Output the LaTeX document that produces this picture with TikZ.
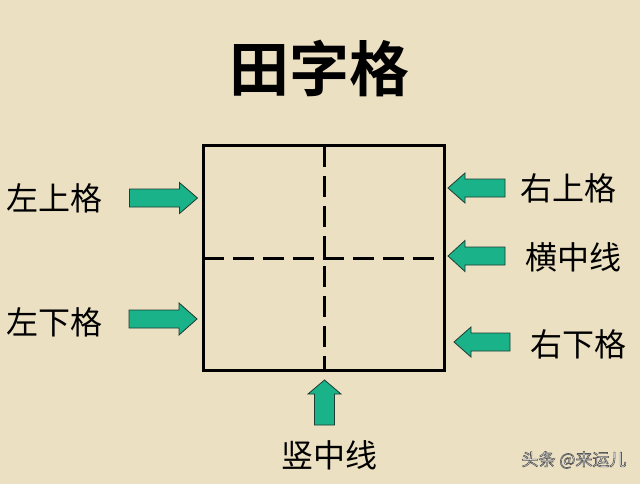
\documentclass[tikz,border=0pt]{standalone}
\usepackage{fontspec}
\newfontfamily\cjk{Noto Sans CJK SC}
\newfontfamily\cjkb{Noto Sans CJK SC Bold}
\definecolor{paper}{RGB}{236,224,194}
\definecolor{arrowgreen}{RGB}{26,178,136}
\definecolor{arrowedge}{RGB}{30,60,50}
\tikzset{
  gridline/.style={line width=3pt, black},
  midline/.style={line width=3pt, black, dash pattern=on 21pt off 9pt},
  label/.style={font=\cjk\fontsize{32}{36}\selectfont, text=black, inner sep=0pt, anchor=center},
  titletext/.style={font=\cjkb\fontsize{60}{66}\selectfont, text=black, inner sep=0pt},
  blockarrow/.style={fill=arrowgreen, draw=arrowedge, line width=0.8pt, line join=miter},
}
% \blockarr{cx}{cy}{length}{headlen}{shaft half}{head half}{rotation}
\newcommand\blockarr[7]{%
  \begin{scope}[shift={(#1,#2)}, rotate=#7]
    \path[blockarrow] (-#3/2,-#5) -- (#3/2-#4,-#5) -- (#3/2-#4,-#6) -- (#3/2,0)
      -- (#3/2-#4,#6) -- (#3/2-#4,#5) -- (-#3/2,#5) -- cycle;
  \end{scope}}
\begin{document}
\begin{tikzpicture}[x=1pt,y=-1pt]
\useasboundingbox (0,0) rectangle (640,484);
\fill[paper] (0,0) rectangle (640,484);

% title
\node[titletext] (title) at (319,68) {田字格};

% grid
\coordinate (tl) at (203,146);
\coordinate (br) at (444,370);
\coordinate (tm) at (324,146);
\coordinate (bm) at (324,370);
\coordinate (lm) at (203,258);
\coordinate (rm) at (444,258);
\draw[midline] (tm) -- (bm);
\draw[midline] (lm) -- (rm);
\draw[gridline] (tl) rectangle (br);

% labels
\node[label] (lu) at (54,198) {左上格};
\node[label] (ld) at (54,322) {左下格};
\node[label] (ru) at (568,188) {右上格};
\node[label] (hz) at (573,257) {横中线};
\node[label] (rd) at (578,344) {右下格};
\node[label] (vt) at (329,455) {竖中线};

% arrows
\blockarr{163.5}{198}{68}{18}{9}{15.5}{0}
\blockarr{163}{319}{68}{18}{9}{16}{0}
\blockarr{476.5}{188}{57}{17}{9}{15}{180}
\blockarr{476.5}{256}{57}{17}{9}{15.5}{180}
\blockarr{482}{342}{56}{17}{9}{15}{180}
\blockarr{324.5}{402.5}{45}{14}{10}{16.5}{90}

% watermark
\node[font=\cjk\fontsize{17}{20}\selectfont, text=white, inner sep=0pt] (wm) at (574,460)
  {\special{pdf:code 2 Tr 0.6 w 0.35 G}头条 @来运儿\special{pdf:code 0 Tr}};
\end{tikzpicture}
\end{document}
